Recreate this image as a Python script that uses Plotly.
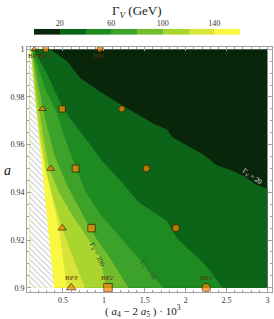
import plotly.graph_objects as go

# ---------------- data ----------------
LEVELS = [0, 20, 40, 60, 80, 100, 120, 140, 160]
BAND_COLORS = ['#0a260a', '#0b6418', '#1e8a22', '#3ca22a', '#72bd2e', '#aad42e', '#d8e43a', '#f8f842']
CB_TICKS = [20, 60, 100, 140]

X_MIN, X_MAX = 0.09, 3.0
A_MIN, A_MAX = 0.9, 1.0

# contour boundaries (Gamma_V = level), x positions along a
C20_X = [0.34, 0.55, 0.71, 0.95, 1.10, 1.32, 1.48, 1.62, 1.77, 1.84, 2.05, 2.23, 2.38, 2.54, 2.70, 2.86, 3.0]
C20_A = [1.0, 0.995, 0.988, 0.9823, 0.979, 0.9745, 0.9714, 0.9686, 0.9665, 0.963, 0.959, 0.9556, 0.9514, 0.9495, 0.947, 0.9433, 0.9415]
C40_X = [0.14, 0.30, 0.49, 0.63, 0.79, 0.98, 1.20, 1.42, 1.77, 1.89, 2.05, 2.17, 2.30, 2.45]
C40_A = [1.0, 0.99, 0.976, 0.969, 0.962, 0.953, 0.945, 0.936, 0.928, 0.921, 0.9156, 0.912, 0.907, 0.9]
C60_X = [0.13, 0.22, 0.30, 0.43, 0.52, 0.65, 0.78, 0.95, 1.28, 1.48, 1.72]
C60_A = [1.0, 0.99, 0.982, 0.973, 0.963, 0.951, 0.94, 0.931, 0.918, 0.910, 0.9]
C80_X = [0.12, 0.20, 0.30, 0.40, 0.55, 0.72, 0.90, 1.08, 1.30]
C80_A = [1.0, 0.985, 0.968, 0.955, 0.943, 0.932, 0.921, 0.912, 0.9]
C100_X = [0.115, 0.17, 0.25, 0.33, 0.45, 0.62, 0.78, 0.95, 1.03]
C100_A = [1.0, 0.985, 0.965, 0.95, 0.94, 0.93, 0.922, 0.913, 0.9]
C120_X = [0.11, 0.16, 0.22, 0.30, 0.40, 0.52, 0.65, 0.77]
C120_A = [1.0, 0.98, 0.965, 0.948, 0.935, 0.922, 0.91, 0.9]
C140_X = [0.205, 0.28, 0.38, 0.45, 0.50, 0.55]
C140_A = [0.964, 0.95, 0.936, 0.925, 0.912, 0.9]

# excluded (hatched) region edge
HATCH_X = [0.10, 0.39]
HATCH_A = [1.0, 0.9]

# benchmark points
BP1_X = [0.95, 1.22, 1.52, 1.88, 2.25]
BP2_X = [0.29, 0.49, 0.655, 0.85, 1.05]
BP3_X = [0.15, 0.25, 0.35, 0.49, 0.60]
BP_A = [1.0, 0.975, 0.95, 0.925, 0.9]
BP_SIZE = [5.5, 6.5, 7, 7.5, 8.5]

X_TICKS = [0.5, 1, 1.5, 2, 2.5, 3]
X_TICKTEXT = ['0.5', '1', '1.5', '2', '2.5', '3']
Y_TICKS = [0.9, 0.92, 0.94, 0.96, 0.98, 1.0]
Y_TICKTEXT = ['0.9', '0.92', '0.94', '0.96', '0.98', '1']

SERIF = 'Liberation Serif, Times New Roman, serif'

fig = go.Figure()

# background (lowest band)
fig.add_trace(go.Scatter(x=[X_MIN, X_MAX, X_MAX, X_MIN], y=[A_MAX, A_MAX, A_MIN, A_MIN],
                         fill='toself', fillcolor=BAND_COLORS[0], mode='none',
                         hoverinfo='skip', showlegend=False))

contours = [(C20_X, C20_A), (C40_X, C40_A), (C60_X, C60_A), (C80_X, C80_A),
            (C100_X, C100_A), (C120_X, C120_A), (C140_X, C140_A)]
for i, (cx, ca) in enumerate(contours):
    xs = list(cx)
    ys = list(ca)
    if xs[-1] >= X_MAX and ys[-1] > A_MIN:
        xs += [X_MAX]
        ys += [A_MIN]
    xs += [X_MIN, X_MIN]
    ys += [A_MIN, ca[0]]
    fig.add_trace(go.Scatter(x=xs, y=ys, fill='toself', fillcolor=BAND_COLORS[i + 1],
                             mode='none', hoverinfo='skip', showlegend=False))

# hatched excluded region
fig.add_trace(go.Scatter(x=[X_MIN, HATCH_X[0], HATCH_X[1], X_MIN],
                         y=[HATCH_A[0], HATCH_A[0], HATCH_A[1], HATCH_A[1]],
                         fill='toself', mode='none', fillcolor='white',
                         fillpattern=dict(shape='\\', fgcolor='#8a8a8a', bgcolor='white',
                                          size=4, solidity=0.25),
                         hoverinfo='skip', showlegend=False))

# markers
def add_bp(xs, symbol):
    fig.add_trace(go.Scatter(x=xs, y=BP_A, mode='markers', cliponaxis=False,
                             marker=dict(symbol=symbol, size=BP_SIZE, color='#ff8200',
                                         line=dict(color='#3a1e00', width=1)),
                             hoverinfo='skip', showlegend=False))

add_bp(BP3_X, 'triangle-up')
add_bp(BP2_X, 'square')
add_bp(BP1_X, 'circle')

bp_font = dict(family=SERIF, size=7, color='#5a2d0c')
for xs, name in [(BP1_X, 'BP1'), (BP2_X, 'BP2'), (BP3_X, 'BP3')]:
    fig.add_annotation(x=xs[0], y=BP_A[0], text=name, showarrow=False, yshift=-7, font=bp_font)
    fig.add_annotation(x=xs[-1], y=BP_A[-1], text=name + "'", showarrow=False, yshift=10, font=bp_font)

# contour labels
fig.add_annotation(x=2.82, y=0.9465, text='Γ<sub>V</sub> = 20', showarrow=False, textangle=35,
                   font=dict(family=SERIF, size=7, color='#e8e8e8'))
fig.add_annotation(x=1.54, y=0.9074, text='Γ<sub>V</sub> = 60', showarrow=False, textangle=52,
                   font=dict(family=SERIF, size=7, color='#2a4a2a'))
fig.add_annotation(x=0.92, y=0.9137, text='Γ<sub>V</sub> = 100', showarrow=False, textangle=64,
                   font=dict(family=SERIF, size=7, color='#333333'))

# colour bar as heatmap on its own axes
mids = [(LEVELS[i] + LEVELS[i + 1]) / 2 for i in range(len(LEVELS) - 1)]
cscale = []
for i, c in enumerate(BAND_COLORS):
    cscale.append([i / len(BAND_COLORS), c])
    cscale.append([(i + 1) / len(BAND_COLORS), c])
fig.add_trace(go.Heatmap(x=mids, y=[0], z=[mids], colorscale=cscale, zmin=LEVELS[0], zmax=LEVELS[-1],
                         showscale=False, xaxis='x2', yaxis='y2', hoverinfo='skip'))

fig.add_annotation(xref='paper', yref='paper', x=0.45, y=0.966, yanchor='middle',
                   text='Γ<sub><i>V</i></sub> (GeV)', showarrow=False,
                   font=dict(family=SERIF, size=13, color='#222'))
fig.add_annotation(xref='paper', yref='paper', x=0.475, y=-0.067, yanchor='middle',
                   text='( <i>a</i><sub>4</sub> − 2 <i>a</i><sub>5</sub> ) · 10<sup>3</sup>',
                   showarrow=False, font=dict(family=SERIF, size=11, color='#222'))
fig.add_annotation(xref='paper', yref='paper', x=-0.078, y=0.42, xanchor='center',
                   text='<i>a</i>', showarrow=False, font=dict(family=SERIF, size=14, color='#222'))

axis_common = dict(showgrid=False, zeroline=False, showline=True, linecolor='#a0a0a0', linewidth=1,
                   mirror='allticks', ticks='inside', ticklen=4, tickcolor='#a0a0a0',
                   tickfont=dict(family=SERIF, size=8, color='#333'))

fig.update_layout(
    width=274, height=319, margin=dict(l=27, r=2, t=0, b=27),
    paper_bgcolor='white', plot_bgcolor='white',
    xaxis=dict(range=[0.06, 3.055], tickvals=X_TICKS, ticktext=X_TICKTEXT,
               minor=dict(dtick=0.1, tick0=0, ticks='inside', ticklen=2, tickcolor='#a0a0a0'),
               **axis_common),
    yaxis=dict(range=[0.8982, 1.0008], domain=[0, 0.8435], tickvals=Y_TICKS, ticktext=Y_TICKTEXT,
               minor=dict(dtick=0.005, tick0=0.9, ticks='inside', ticklen=2, tickcolor='#a0a0a0'),
               **axis_common),
    xaxis2=dict(domain=[0.0286, 0.869], anchor='y2', range=[LEVELS[0], LEVELS[-1]], side='top',
                tickvals=CB_TICKS, ticks='', showline=False, showgrid=False, zeroline=False,
                tickfont=dict(family=SERIF, size=8, color='#333')),
    yaxis2=dict(domain=[0.887, 0.9075], anchor='x2', range=[-0.5, 0.5], visible=False),
)

fig.write_html('out.html', config={'displayModeBar': False},
               post_script="document.body.style.margin='0';document.body.style.padding='0';")
